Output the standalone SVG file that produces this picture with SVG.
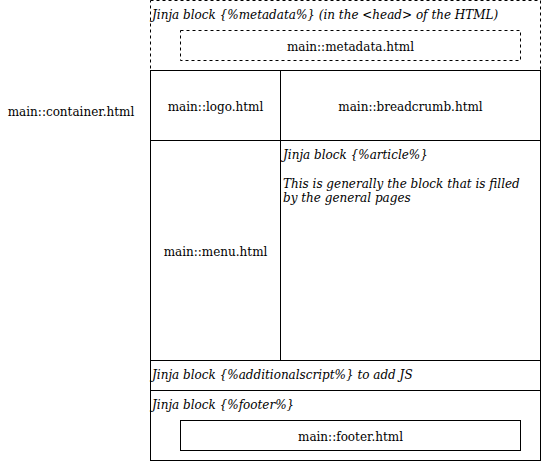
<svg xmlns="http://www.w3.org/2000/svg" width="541" height="461" viewBox="0 0 541 461">
<style>
.b{fill:#fff;stroke:#000;stroke-width:1}
.d{stroke-dasharray:3 3}
.t{font-family:"DejaVu Serif",serif;font-size:12px;fill:#000}
.i{font-family:"DejaVu Serif",serif;font-style:italic;font-size:12px;fill:#000}
</style>
<rect width="541" height="461" fill="#fff"/>
<g id="container"><text class="t" x="71" y="116" text-anchor="middle">main::container.html</text></g>
<g id="metadata-block"><rect class="b d" x="150.5" y="0.5" width="390" height="70"/><text class="i" x="152" y="19">Jinja block {%metadata%} (in the &lt;head&gt; of the HTML)</text></g>
<g id="metadata"><rect class="b d" x="180.5" y="30.5" width="340" height="30"/><text class="t" x="350.5" y="51" text-anchor="middle">main::metadata.html</text></g>
<g id="logo"><rect class="b" x="150.5" y="70.5" width="130" height="70"/><text class="t" x="215.5" y="111" text-anchor="middle">main::logo.html</text></g>
<g id="breadcrumb"><rect class="b" x="280.5" y="70.5" width="260" height="70"/><text class="t" x="410.5" y="111" text-anchor="middle">main::breadcrumb.html</text></g>
<g id="menu"><rect class="b" x="150.5" y="140.5" width="130" height="220"/><text class="t" x="215.5" y="256" text-anchor="middle">main::menu.html</text></g>
<g id="article"><rect class="b" x="280.5" y="140.5" width="260" height="220"/><text class="i" x="283" y="159">Jinja block {%article%}</text><text class="i" x="283" y="188">This is generally the block that is filled</text><text class="i" x="283" y="202">by the general pages</text></g>
<g id="additionalscript"><rect class="b" x="150.5" y="360.5" width="390" height="30"/><text class="i" x="152" y="379">Jinja block {%additionalscript%} to add JS</text></g>
<g id="footer-block"><rect class="b" x="150.5" y="390.5" width="390" height="70"/><text class="i" x="152" y="409">Jinja block {%footer%}</text></g>
<g id="footer"><rect class="b" x="180.5" y="420.5" width="340" height="30"/><text class="t" x="350.5" y="441" text-anchor="middle">main::footer.html</text></g>
<g id="connectors"></g>
</svg>
